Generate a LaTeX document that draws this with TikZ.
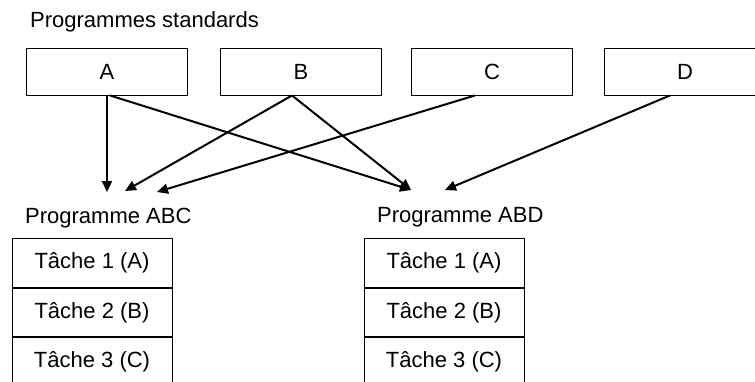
\documentclass[tikz,border=0pt]{standalone}
\usepackage{fontspec}
\setmainfont{Liberation Sans}
\usetikzlibrary{positioning, arrows.meta}

\begin{document}
\begin{tikzpicture}[x=1pt, y=-1pt,
    prog/.style={rectangle, draw=black, line width=0.9pt, minimum width=161pt,
                 minimum height=47pt, inner sep=0pt, font=\fontsize{22}{26}\selectfont},
    task/.style={rectangle, draw=black, line width=0.9pt, minimum width=160pt,
                 minimum height=48.5pt, inner sep=0pt, font=\fontsize{22}{26}\selectfont},
    heading/.style={font=\fontsize{22}{26}\selectfont, inner sep=0pt, anchor=west},
    arrow/.style={-{Triangle[length=11pt, width=10pt]}, line width=2pt}
]
    \useasboundingbox (0,0) rectangle (755,381);

    % === Standard programs ===
    \node[heading] (std) at (30, 22) {Programmes standards};

    \node[prog] (A) at (107, 71.5) {A};
    \node[prog] (B) at (301, 71.5) {B};
    \node[prog] (C) at (492, 71.5) {C};
    \node[prog] (D) at (685, 71.5) {D};

    % === Targets ===
    \coordinate (abcA) at (107, 192);
    \coordinate (abcB) at (125, 191);
    \coordinate (abcC) at (157, 192);
    \coordinate (abdAB) at (411, 190);
    \coordinate (abdD) at (445, 190);

    \draw[arrow] (A.south) -- (abcA);
    \draw[arrow] ([xshift=3pt]A.south) -- (abdAB);
    \draw[arrow] ([xshift=-9pt]B.south) -- (abcB);
    \draw[arrow] ([xshift=-9pt]B.south) -- (abdAB);
    \draw[arrow] ([xshift=-17pt]C.south) -- (abcC);
    \draw[arrow] ([xshift=-15pt]D.south) -- (abdD);

    % === Program ABC ===
    \node[heading] (abc) at (25, 218) {Programme ABC};
    \node[task] (abc1) at (92, 263) {Tâche 1 (A)};
    \node[task, below=0pt of abc1] (abc2) {Tâche 2 (B)};
    \node[task, below=0pt of abc2] (abc3) {Tâche 3 (C)};

    % === Program ABD ===
    \node[heading] (abd) at (377, 217) {Programme ABD};
    \node[task] (abd1) at (444, 263) {Tâche 1 (A)};
    \node[task, below=0pt of abd1] (abd2) {Tâche 2 (B)};
    \node[task, below=0pt of abd2] (abd3) {Tâche 3 (C)};

\end{tikzpicture}
\end{document}
